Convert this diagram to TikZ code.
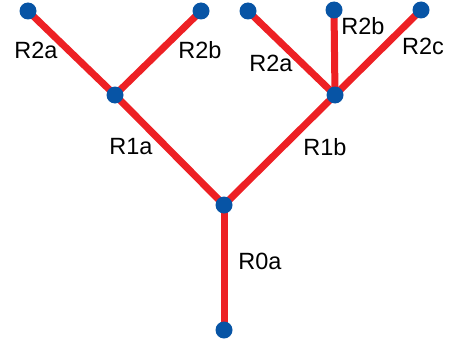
\documentclass[tikz,border=0pt]{standalone}
\usepackage{fontspec}
\setmainfont{Liberation Sans}
\usepackage{xcolor}
\usetikzlibrary{backgrounds}
\definecolor{branchred}{RGB}{237,32,36}
\definecolor{dotblue}{RGB}{7,84,165}

\begin{document}
\begin{tikzpicture}[x=1pt,y=-1pt]
  \tikzstyle{dot}=[circle, fill=dotblue, inner sep=0pt, minimum size=17pt]
  \tikzstyle{branch}=[draw=branchred, line width=7pt]
  \tikzstyle{lbl}=[inner sep=0pt, font=\fontsize{23.5}{28}\selectfont]

  \useasboundingbox (0,0) rectangle (449,345);

  % Knoten des Baums
  \node[dot] (root) at (224,330) {};
  \node[dot] (n0) at (224,205) {};
  \node[dot] (n1a) at (115,95) {};
  \node[dot] (n1b) at (335,95) {};
  \node[dot] (n2aa) at (28,11) {};
  \node[dot] (n2ab) at (201,11) {};
  \node[dot] (n2ba) at (248,11) {};
  \node[dot] (n2bb) at (334,10) {};
  \node[dot] (n2bc) at (421,10) {};

  \begin{scope}[on background layer]
    \draw[branch] (root.center) -- (n0.center);
    \draw[branch] (n0.center) -- (n1a.center);
    \draw[branch] (n0.center) -- (n1b.center);
    \draw[branch] (n1a.center) -- (n2aa.center);
    \draw[branch] (n1a.center) -- (n2ab.center);
    \draw[branch] (n1b.center) -- (n2ba.center);
    \draw[branch] (n1b.center) -- (n2bb.center);
    \draw[branch] (n1b.center) -- (n2bc.center);
  \end{scope}

  % Beschriftungen
  \node[lbl] (l0a) at (260,261) {R0a};
  \node[lbl] (l1a) at (131,147) {R1a};
  \node[lbl] (l1b) at (325,147) {R1b};
  \node[lbl] (l2aa) at (36,50) {R2a};
  \node[lbl] (l2ab) at (200,50) {R2b};
  \node[lbl] (l2ba) at (271,63) {R2a};
  \node[lbl] (l2bb) at (363,26) {R2b};
  \node[lbl] (l2bc) at (423,46) {R2c};
\end{tikzpicture}
\end{document}
